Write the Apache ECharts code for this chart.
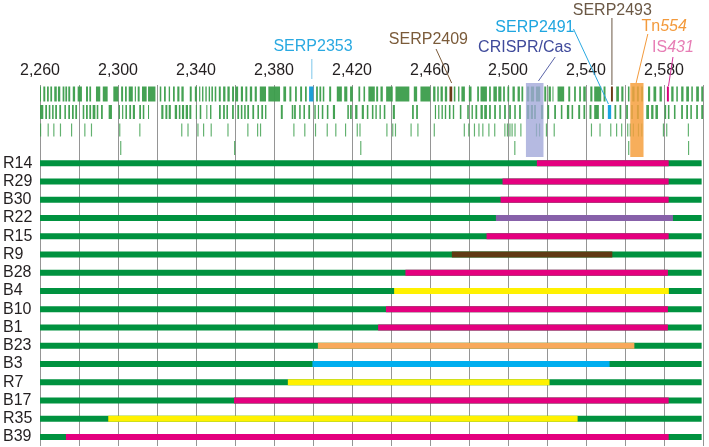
<!DOCTYPE html>
<html><head><meta charset="utf-8">
<script src="https://cdn.jsdelivr.net/npm/echarts@6/dist/echarts.min.js"></script>
<style>html,body{margin:0;padding:0;background:#fff}#c{width:709px;height:447px}</style>
</head><body><div id="c"></div>
<script>
// ---------- axis ----------
const xMin = 2260, xMax = 2600, xStep = 20;
const tickValues = [2260, 2300, 2340, 2380, 2420, 2460, 2500, 2540, 2580];
const tickLabels = ['2,260', '2,300', '2,340', '2,380', '2,420', '2,460', '2,500', '2,540', '2,580'];

// ---------- strains ----------
const strains = ['R14','R29','B30','R22','R15','R9','B28','B4','B10','B1','B23','B3','R7','B17','R35','B39'];
const barStart = 2260, barEnd = 2599.3;
const segStart = [2514.8, 2497.2, 2496.2, 2493.8, 2489.0, 2471.2, 2447.4, 2441.6, 2437.4, 2433.4, 2402.5, 2399.7, 2387.1, 2359.5, 2295.0, 2273.3];
const segEnd   = [2582.4, 2582.4, 2582.4, 2584.6, 2582.4, 2553.5, 2582.0, 2582.5, 2582.0, 2582.0, 2564.8, 2552.1, 2521.3, 2582.4, 2535.7, 2582.4];
const segType  = ['pink','pink','pink','purple','pink','brown','pink','yellow','pink','pink','orange','blue','yellow','pink','yellow','pink'];

// ---------- gene tracks (kb start, kb end) ----------
const geneRow1 = [[2260,2260.5],[2261.7,2262.7],[2263.6,2264.5],[2265.3,2266.2],[2267.3,2268.6],[2269.2,2270.4],[2271.6,2272.5],[2273.0,2273.9],[2274.5,2275.5],[2276.8,2278.0],[2279.3,2281.5],[2283.6,2284.6],[2285.3,2286.2],[2288.7,2290.9],[2292.2,2294.7],[2297.6,2300.2],[2301.6,2302.6],[2303.6,2304.5],[2305.5,2307.6],[2308.6,2309.2],[2310.1,2311.1],[2312.3,2314.7],[2315.4,2319.2],[2321.4,2322.2],[2323.6,2324.5],[2326.0,2326.7],[2328.2,2329.1],[2330.4,2331.5],[2332.5,2333.7],[2336.8,2337.8],[2339.4,2340.4],[2341.6,2342.2],[2343.1,2343.8],[2344.8,2345.5],[2346.5,2347.2],[2347.9,2348.7],[2349.6,2350.4],[2351.7,2352.7],[2353.9,2355.1],[2356.1,2357.3],[2358.5,2359.5],[2360.2,2361.6],[2363.0,2364.1],[2365.3,2366.3],[2367.6,2368.8],[2370.1,2371.2],[2372.7,2375.9],[2377.1,2383.1],[2384.8,2386.2],[2387.9,2388.9],[2390.8,2391.7],[2393.4,2394.4],[2395.9,2396.8],[2401.6,2402.5],[2403.3,2404.2],[2405.0,2405.8],[2408.3,2409.3],[2412.2,2414.8],[2416.0,2417.6],[2419.0,2420.4],[2423.3,2424.2],[2425.9,2426.7],[2428.4,2431.7],[2432.4,2433.4],[2434.6,2435.8],[2437.5,2440.9],[2442.3,2449.4],[2451.7,2453.4],[2455.1,2460.2],[2461.6,2462.8],[2463.7,2464.5],[2465.4,2466.6],[2467.6,2468.8],[2472.2,2473.0],[2474.4,2475.1],[2476.1,2477.9],[2479.9,2481.3],[2484.2,2485.1],[2485.9,2489.2],[2490.3,2491.2],[2492.5,2494.3],[2495.0,2496.6],[2497.5,2498.4],[2499.7,2500.6],[2502.3,2503.5],[2504.9,2506.1],[2506.9,2507.8],[2509.7,2510.9],[2511.7,2513.4],[2514.3,2516.5],[2518.6,2519.6],[2520.8,2522.0],[2522.8,2523.3],[2525.4,2528.8],[2530.9,2531.9],[2533.9,2534.8],[2536.5,2537.4],[2538.6,2539.9],[2542.2,2543.3],[2544.2,2547.8],[2549.0,2550.0],[2555.5,2556.9],[2558.1,2559.2],[2561.5,2562.3],[2563.7,2564.9],[2566.1,2567.1],[2568.3,2569.2],[2571.8,2572.9],[2574.6,2576.0],[2577.7,2578.9],[2583.7,2584.9],[2586.3,2587.1],[2588.8,2590.0],[2591.4,2592.8],[2594.0,2594.8],[2596.5,2597.9],[2599.1,2600]];
const geneRow2 = [[2260,2261.7],[2262.7,2263.6],[2264.5,2265.3],[2266.2,2267.0],[2267.8,2268.7],[2269.9,2270.8],[2272.5,2273.3],[2274.5,2275.4],[2276.4,2277.3],[2278.1,2279.0],[2281.9,2282.7],[2283.6,2284.5],[2285.3,2286.2],[2287.0,2288.4],[2289.1,2289.9],[2291.3,2292.2],[2295.2,2296.9],[2300.4,2301.0],[2302.1,2302.7],[2303.8,2304.6],[2305.8,2306.7],[2307.6,2308.7],[2310.9,2311.8],[2312.7,2313.5],[2315.4,2315.9],[2322.2,2323.3],[2324.3,2325.3],[2326.0,2327.1],[2329.1,2330.3],[2331.2,2332.0],[2332.8,2333.9],[2334.7,2335.9],[2336.6,2337.6],[2339.9,2340.4],[2341.9,2342.7],[2345.3,2345.8],[2347.2,2347.9],[2351.8,2352.7],[2353.9,2354.8],[2355.6,2356.4],[2358.5,2359.4],[2361.2,2362.1],[2363.0,2363.8],[2364.7,2365.5],[2366.3,2367.2],[2368.9,2369.8],[2371.5,2372.3],[2373.5,2374.4],[2375.4,2376.1],[2383.5,2384.5],[2389.1,2389.9],[2390.3,2391.2],[2392.9,2393.7],[2395.1,2395.9],[2397.6,2398.5],[2400.7,2401.4],[2402.5,2403.1],[2404.5,2405.3],[2407.1,2407.9],[2410.2,2411.3],[2417.6,2418.4],[2419.0,2419.9],[2421.6,2422.8],[2425.0,2426.1],[2427.6,2428.4],[2430.2,2431.0],[2432.0,2432.7],[2434.1,2434.8],[2436.3,2437.1],[2440.9,2442.0],[2450.8,2451.7],[2452.9,2453.8],[2462.5,2463.1],[2464.2,2464.8],[2465.9,2466.6],[2467.6,2468.3],[2469.7,2470.5],[2471.7,2472.4],[2475.3,2476.1],[2479.1,2479.9],[2481.3,2482.0],[2483.3,2484.2],[2485.9,2487.1],[2487.8,2489.2],[2490.3,2491.2],[2492.9,2493.8],[2495.5,2496.3],[2498.0,2498.9],[2500.6,2501.5],[2503.2,2504.0],[2505.7,2506.6],[2509.7,2510.9],[2511.7,2512.8],[2513.4,2514.3],[2516.9,2518.0],[2520.2,2521.1],[2523.7,2524.6],[2527.1,2527.9],[2530.2,2531.4],[2532.6,2533.4],[2536.0,2537.0],[2538.7,2539.6],[2541.8,2542.8],[2544.2,2546.6],[2548.3,2549.2],[2554.6,2555.5],[2557.2,2558.1],[2560.6,2561.5],[2563.2,2564.0],[2566.1,2567.1],[2570.9,2572.3],[2573.4,2574.6],[2575.6,2576.9],[2580.3,2581.1],[2582.0,2582.8],[2585.1,2585.9],[2588.8,2589.7],[2591.4,2592.3],[2593.5,2594.3],[2596.5,2597.4],[2599.1,2600]];
const geneRow3 = [[2260,2260.6],[2263.9,2264.5],[2266.8,2267.4],[2270.2,2270.8],[2275.9,2276.5],[2282.7,2283.3],[2286.1,2286.7],[2300.6,2301.2],[2310.9,2311.5],[2332.4,2333.0],[2335.6,2336.2],[2340.7,2341.3],[2343.6,2344.2],[2347.5,2348.1],[2356.1,2356.7],[2366.3,2366.9],[2371.3,2371.9],[2372.8,2373.4],[2389.9,2390.5],[2395.5,2396.1],[2401.0,2401.6],[2407.0,2407.6],[2411.4,2412.0],[2416.4,2417.0],[2422.4,2423.0],[2423.8,2424.4],[2437.6,2438.2],[2440.6,2441.2],[2442.0,2442.6],[2450.0,2450.6],[2453.5,2454.1],[2461.9,2462.5],[2477.3,2477.9],[2479.6,2480.2],[2482.5,2483.1],[2484.8,2485.4],[2486.8,2487.4],[2489.9,2490.5],[2492.9,2493.5],[2498.1,2498.7],[2499.4,2500.0],[2500.7,2501.3],[2501.8,2502.4],[2503.3,2503.9],[2506.3,2506.9],[2514.3,2514.9],[2515.9,2516.5],[2519.4,2520.0],[2523.4,2524.0],[2542.5,2543.1],[2546.9,2547.5],[2552.4,2553.0],[2555.4,2556.0],[2558.0,2558.6],[2561.1,2561.7],[2562.4,2563.0],[2564.0,2564.6],[2566.6,2567.2],[2568.3,2568.9],[2579.4,2580.0],[2581.1,2581.7],[2592.2,2592.8]];
const geneRow4 = [[2301.1,2301.7],[2359.5,2360.1],[2424.2,2424.8],[2503.2,2503.8],[2561.6,2562.2],[2592.3,2592.9]];
// named genes: [name, row index, start, end]
const namedGenes = [['SERP2353',0,2398.0,2400.2],['SERP2409',0,2470.0,2471.4],['SERP2493',0,2552.8,2553.8],['IS431',0,2581.5,2582.5],['SERP2491',1,2551.2,2552.9]];
// highlighted regions [name, start, end]
const regions = [['CRISPR/Cas',2509.2,2518.2],['Tn554',2562.7,2569.5]];

// ---------- annotations ----------
const annNames   = ['SERP2353','SERP2409','CRISPR/Cas','SERP2491','SERP2493','Tn554','IS431'];
const annText    = ['SERP2353','SERP2409','CRISPR/Cas','SERP2491','SERP2493','{n|Tn}{i|554}','{n|IS}{i|431}'];
const annLabelKb = [2400.0, 2459.2, 2508.6, 2513.8, 2553.5, 2580.1, 2584.6];
const annFromKb  = [2399.4, 2463.1, 2524.2, 2533.6, 2553.3, 2571.7, 2584.6];
const annToKb    = [2399.4, 2471.1, 2515.6, 2551.5, 2553.3, 2565.7, 2582.3];

// ---------- styles ----------
const FONT = '"Liberation Sans", Arial, sans-serif';
const segColors = {pink:'#e4007f', purple:'#8761a9', brown:'#603913', yellow:'#fff100', orange:'#f8a95b', blue:'#00aeef'};
const barGreen = '#00923f';
const geneColor = '#3b9d4b';
const namedColors = {SERP2353:'#1e9fd9', SERP2409:'#6b3a16', SERP2493:'#6b3a16', IS431:'#d6007a', SERP2491:'#1aa5e0'};
const regionColors = {'CRISPR/Cas':'rgba(160,166,216,0.78)', 'Tn554':'rgba(246,160,62,0.85)'};
const geneHeights = [15, 14, 13, 14];
const annStyle = {
  'SERP2353':  {color:'#29a9e1', line:'#7cc6ea', y:47,   y1:59, y2:79},
  'SERP2409':  {color:'#7b5b3a', line:'#7b5b3a', y:39.5, y1:49, y2:83},
  'CRISPR/Cas':{color:'#3f4a9b', line:'#5a64a8', y:48,   y1:57, y2:81},
  'SERP2491':  {color:'#1fa6e0', line:'#29a9e1', y:27.5, y1:29, y2:104},
  'SERP2493':  {color:'#6b5845', line:'#6b5845', y:11,   y1:18, y2:85},
  'Tn554':     {color:'#f39a3c', line:'#f39a3c', y:27,   y1:34, y2:83},
  'IS431':     {color:'#e77db5', line:'#d6339a', y:48,   y1:57, y2:86}
};

const geneData = [];
[geneRow1, geneRow2, geneRow3, geneRow4].forEach((row, r) => row.forEach(g => geneData.push([g[0], g[1], r])));

const chart = echarts.init(document.getElementById('c'), null, {renderer:'canvas'});
const splitStyle = {show:true, lineStyle:{color:'#959595', width:1}};

chart.setOption({
  animation:false,
  backgroundColor:'#fff',
  textStyle:{fontFamily:FONT},
  grid:[{left:40, right:6, top:85, height:72}, {left:40, right:6, top:154, height:292}],
  xAxis:[
    {gridIndex:0, type:'value', position:'top', min:xMin, max:xMax, interval:xStep,
     axisLine:{show:false}, axisTick:{show:false}, splitLine:splitStyle,
     axisLabel:{fontSize:16, color:'#231f20', margin:6, fontFamily:FONT, showMaxLabel:false,
       formatter:v => { const i = tickValues.indexOf(Math.round(v)); return i < 0 ? '' : tickLabels[i]; }}},
    {gridIndex:1, type:'value', min:xMin, max:xMax, interval:xStep,
     axisLine:{show:false}, axisTick:{show:false}, axisLabel:{show:false}, splitLine:splitStyle}
  ],
  yAxis:[
    {gridIndex:0, type:'category', data:['r1','r2','r3','r4'], inverse:true,
     axisLine:{show:false}, axisTick:{show:false}, axisLabel:{show:false}, splitLine:{show:false}},
    {gridIndex:1, type:'category', data:strains, inverse:true,
     axisLine:{show:false}, axisTick:{show:false}, splitLine:{show:false},
     axisLabel:{interval:0, align:'left', margin:37, fontSize:16, color:'#231f20', fontFamily:FONT}}
  ],
  series:[
    {type:'custom', xAxisIndex:0, yAxisIndex:0, data:geneData, z:2,
     renderItem:(params, api) => {
       const r = api.value(2);
       const a = api.coord([api.value(0), r]);
       const b = api.coord([api.value(1), r]);
       const h = geneHeights[r];
       return {type:'rect', shape:{x:a[0], y:a[1]-h/2, width:Math.max(b[0]-a[0], 1), height:h},
               style:{fill:geneColor, opacity:r >= 2 ? 0.8 : 0.95}};
     }},
    {type:'custom', xAxisIndex:0, yAxisIndex:0, data:namedGenes.map(g => [g[2], g[3], g[1], g[0]]), z:3,
     renderItem:(params, api) => {
       const g = namedGenes[params.dataIndex];
       const r = g[1];
       const a = api.coord([g[2], r]);
       const b = api.coord([g[3], r]);
       const h = geneHeights[r];
       return {type:'rect', shape:{x:a[0], y:a[1]-h/2, width:Math.max(b[0]-a[0], 1.5), height:h},
               style:{fill:namedColors[g[0]]}};
     }},
    {type:'custom', xAxisIndex:0, yAxisIndex:0, data:regions.map(g => [g[1], g[2]]), z:4, clip:false,
     renderItem:(params, api) => {
       const g = regions[params.dataIndex];
       const a = api.coord([g[1], 0]);
       const b = api.coord([g[2], 0]);
       const cs = params.coordSys;
       return {type:'rect', shape:{x:a[0], y:cs.y-2, width:b[0]-a[0], height:cs.height+2},
               style:{fill:regionColors[g[0]]}};
     }},
    {type:'custom', xAxisIndex:1, yAxisIndex:1, data:strains.map((s, i) => [segStart[i], segEnd[i], i]), z:3,
     renderItem:(params, api) => {
       const i = params.dataIndex;
       const p0 = api.coord([barStart, i]);
       const p1 = api.coord([barEnd, i]);
       const s0 = api.coord([segStart[i], i]);
       const s1 = api.coord([segEnd[i], i]);
       const h = 6;
       return {type:'group', children:[
         {type:'rect', shape:{x:p0[0], y:p0[1]-h/2, width:p1[0]-p0[0], height:h}, style:{fill:barGreen}},
         {type:'rect', shape:{x:s0[0], y:s0[1]-h/2, width:s1[0]-s0[0], height:h}, style:{fill:segColors[segType[i]]}}
       ]};
     }}
  ]
});

// annotations positioned through the x scale
const graphics = [];
annNames.forEach((name, i) => {
  const st = annStyle[name];
  const lx = chart.convertToPixel({xAxisIndex:0}, annLabelKb[i]);
  const fx = chart.convertToPixel({xAxisIndex:0}, annFromKb[i]);
  const tx = chart.convertToPixel({xAxisIndex:0}, annToKb[i]);
  graphics.push({type:'line', z:10, shape:{x1:fx, y1:st.y1, x2:tx, y2:st.y2},
                 style:{stroke:st.line, lineWidth:1}});
  graphics.push({type:'text', z:10, x:lx, y:st.y,
    style:{text:annText[i], fill:st.color, fontSize:16, fontFamily:FONT,
      align:'center', verticalAlign:'middle', textAlign:'center', textVerticalAlign:'middle',
      rich:{n:{fill:st.color, fontSize:16, fontFamily:FONT, fontStyle:'normal'},
            i:{fill:st.color, fontSize:16, fontFamily:FONT, fontStyle:'italic'}}}});
});
chart.setOption({graphic:graphics});
</script>
</body></html>
